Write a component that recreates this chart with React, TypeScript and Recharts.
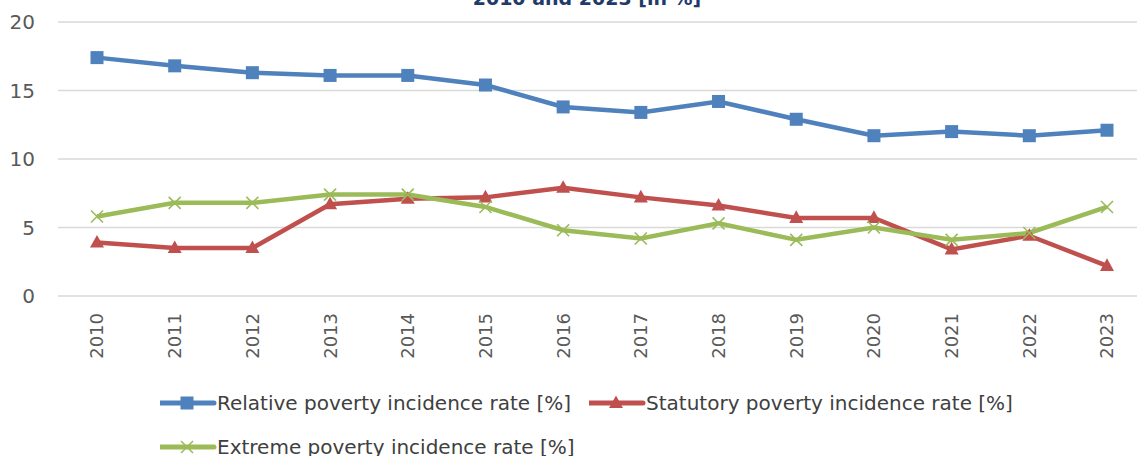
import { LineChart, Line, XAxis, YAxis, CartesianGrid, Legend } from "recharts";

// values
const years = ["2010", "2011", "2012", "2013", "2014", "2015", "2016", "2017", "2018", "2019", "2020", "2021", "2022", "2023"];
const relativeRate = [17.4, 16.8, 16.3, 16.1, 16.1, 15.4, 13.8, 13.4, 14.2, 12.9, 11.7, 12.0, 11.7, 12.1];
const statutoryRate = [3.9, 3.5, 3.5, 6.7, 7.1, 7.2, 7.9, 7.2, 6.6, 5.7, 5.7, 3.4, 4.4, 2.2];
const extremeRate = [5.8, 6.8, 6.8, 7.4, 7.4, 6.5, 4.8, 4.2, 5.3, 4.1, 5.0, 4.1, 4.6, 6.5];
const yTicks = [0, 5, 10, 15, 20];
const titleText = "2010 and 2023 [in %]";

const seriesNames = {
  relative: "Relative poverty incidence rate [%]",
  statutory: "Statutory poverty incidence rate [%]",
  extreme: "Extreme poverty incidence rate [%]",
};
const legendOrder = ["relative", "statutory", "extreme"];

const BLUE = "#4F81BD";
const RED = "#C0504D";
const GREEN = "#9BBB59";
const FONT = "'DejaVu Sans', sans-serif";

const data = years.map((y, i) => ({
  year: y,
  relative: relativeRate[i],
  statutory: statutoryRate[i],
  extreme: extremeRate[i],
}));

// markers
function squareMark(cx: number, cy: number, color: string, s = 13) {
  return <rect x={cx - s / 2} y={cy - s / 2} width={s} height={s} fill={color} />;
}
function triangleMark(cx: number, cy: number, color: string, s = 14) {
  const h = s * 0.9;
  return (
    <polygon
      points={`${cx},${cy - h * 0.6} ${cx - s / 2},${cy + h * 0.4} ${cx + s / 2},${cy + h * 0.4}`}
      fill={color}
    />
  );
}
function crossMark(cx: number, cy: number, color: string, s = 6) {
  return (
    <g stroke={color} strokeWidth={1.6}>
      <line x1={cx - s} y1={cy - s} x2={cx + s} y2={cy + s} />
      <line x1={cx - s} y1={cy + s} x2={cx + s} y2={cy - s} />
    </g>
  );
}

const markFor: any = {
  relative: (cx: number, cy: number) => squareMark(cx, cy, BLUE),
  statutory: (cx: number, cy: number) => triangleMark(cx, cy, RED),
  extreme: (cx: number, cy: number) => crossMark(cx, cy, GREEN),
};

const makeDot = (key: string) => (props: any) => {
  const { cx, cy, index } = props;
  if (cx == null || cy == null) return <g key={`${key}-${index}`} />;
  return <g key={`${key}-${index}`}>{markFor[key](cx, cy)}</g>;
};

function YearTick(props: any) {
  const { x, y, payload } = props;
  const ay = y + 9;
  return (
    <text
      x={x}
      y={ay}
      dy="0.36em"
      transform={`rotate(-90, ${x}, ${ay})`}
      textAnchor="end"
      fill="#595959"
      fontSize={18}
      fontFamily={FONT}
    >
      {payload.value}
    </text>
  );
}

function LegendBox(props: any) {
  const items = [...(props.payload || [])].sort(
    (a: any, b: any) => legendOrder.indexOf(a.dataKey) - legendOrder.indexOf(b.dataKey)
  );
  return (
    <div style={{ display: "flex", flexWrap: "wrap", paddingLeft: 160, width: 900, fontFamily: FONT }}>
      {items.map((it: any) => {
        const color = it.color;
        return (
          <div key={it.dataKey} style={{ display: "flex", alignItems: "center", height: 44, marginRight: 18 }}>
            <svg width={57} height={20}>
              <line x1={0} y1={10} x2={54} y2={10} stroke={color} strokeWidth={5} strokeLinecap="round" />
              {markFor[it.dataKey](27, 10)}
            </svg>
            <span style={{ fontSize: 20, color: "#404040", whiteSpace: "nowrap" }}>{it.value}</span>
          </div>
        );
      })}
    </div>
  );
}

export default function App() {
  return (
    <div style={{ position: "absolute", left: 0, top: 0, width: 1137, height: 456, overflow: "hidden", background: "#fff" }}>
      <div
        style={{
          position: "absolute",
          left: 0,
          width: 1174,
          top: -11,
          textAlign: "center",
          fontFamily: FONT,
          fontWeight: "bold",
          fontSize: 19,
          lineHeight: "19px",
          color: "#1F3B6B",
        }}
      >
        {titleText}
      </div>
      <LineChart width={1146} height={456} data={data} margin={{ top: 22, right: 0, left: 0, bottom: 100 }}>
        <CartesianGrid vertical={false} stroke="#D9D9D9" strokeWidth={1.5} />
        <XAxis
          dataKey="year"
          axisLine={false}
          tickLine={false}
          interval={0}
          height={60}
          padding={{ left: 39, right: 39 }}
          tick={<YearTick />}
        />
        <YAxis
          domain={[0, 20]}
          ticks={yTicks}
          width={58}
          axisLine={false}
          tickLine={false}
          tickMargin={17}
          tick={{ fill: "#595959", fontSize: 20, fontFamily: FONT }}
        />
        <Legend
          verticalAlign="middle"
          align="center"
          layout="horizontal"
          wrapperStyle={{ top: 381, left: 0, width: 1146 }}
          content={<LegendBox />}
        />
        <Line
          dataKey="relative"
          name={seriesNames.relative}
          stroke={BLUE}
          strokeWidth={4.5}
          dot={makeDot("relative")}
          activeDot={false}
          isAnimationActive={false}
        />
        <Line
          dataKey="statutory"
          name={seriesNames.statutory}
          stroke={RED}
          strokeWidth={4.5}
          dot={makeDot("statutory")}
          activeDot={false}
          isAnimationActive={false}
        />
        <Line
          dataKey="extreme"
          name={seriesNames.extreme}
          stroke={GREEN}
          strokeWidth={4.5}
          dot={makeDot("extreme")}
          activeDot={false}
          isAnimationActive={false}
        />
      </LineChart>
    </div>
  );
}
